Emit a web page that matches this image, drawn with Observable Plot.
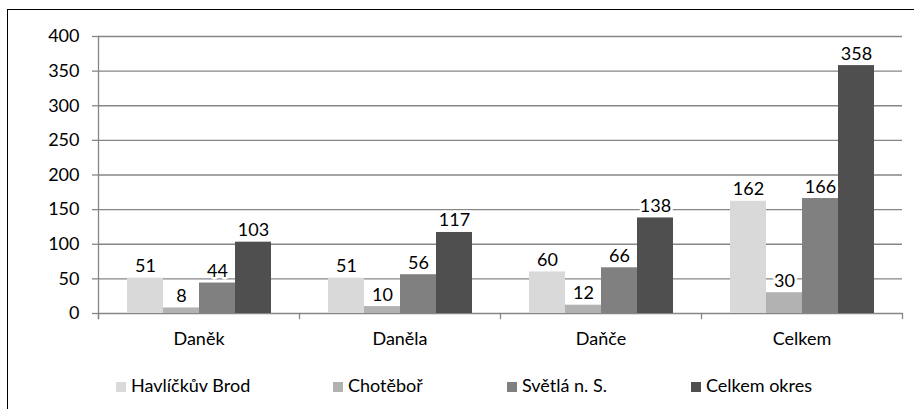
<!DOCTYPE html>
<html>
<head>
<meta charset="utf-8">
<script src="https://cdn.jsdelivr.net/npm/d3@7"></script>
<script src="https://cdn.jsdelivr.net/npm/@observablehq/plot@0.6"></script>
<style>
  html, body { margin: 0; padding: 0; background: #fff; }
  body { width: 914px; height: 409px; position: relative; overflow: hidden; font-family: Lato, "Liberation Sans", Arial, sans-serif; }
  #border { position: absolute; left: 7px; top: 9px; width: 1000px; height: 600px; border: 1px solid #000; box-sizing: border-box; }
  #chart { position: absolute; left: 0; top: 0; }
  #legend { position: absolute; left: 0; top: 0; width: 914px; height: 409px; }
  .item { position: absolute; top: 374px; display: flex; align-items: center; font-size: 18px; color: #000; white-space: nowrap; }
  .sw { width: 10px; height: 10px; margin-right: 5px; margin-top: 3px; }
</style>
</head>
<body>
<div id="border"></div>
<div id="chart"></div>
<div id="legend"></div>
<script>
const categories = ["Daněk", "Daněla", "Daňče", "Celkem"];
const series = ["Havlíčkův Brod", "Chotěboř", "Světlá n. S.", "Celkem okres"];
const valuesHavlickuvBrod = [51, 51, 60, 162];
const valuesChotebor = [8, 10, 12, 30];
const valuesSvetla = [44, 56, 66, 166];
const valuesCelkemOkres = [103, 117, 138, 358];
const yTicks = [0, 50, 100, 150, 200, 250, 300, 350, 400];
const colors = ["#d9d9d9", "#b2b2b2", "#808080", "#4f4f4f"];

const seriesValues = [valuesHavlickuvBrod, valuesChotebor, valuesSvetla, valuesCelkemOkres];
const data = [];
categories.forEach((c, ci) => series.forEach((s, si) => data.push({cat: c, series: s, value: seriesValues[si][ci]})));

const gray = "#868686";
const font = "Lato, 'Liberation Sans', Arial, sans-serif";
const chart = Plot.plot({
  width: 914,
  height: 355,
  marginTop: 36,
  marginBottom: 42,
  marginLeft: 97,
  marginRight: 12,
  style: {fontFamily: font, fontSize: "18px", color: "#000", background: "transparent"},
  fx: {domain: categories, padding: 0},
  x: {domain: series, paddingInner: 0, paddingOuter: 0.755, axis: null},
  y: {domain: [0, 400]},
  color: {domain: series, range: colors},
  marks: [
    Plot.gridY(yTicks, {stroke: gray, strokeOpacity: 1, strokeWidth: 1.3}),
    Plot.barY(data, {fx: "cat", x: "series", y: "value", fill: "series"}),
    Plot.text(data, {fx: "cat", x: "series", y: "value", text: d => String(d.value), lineAnchor: "bottom", dy: -6, fontSize: 18, fill: "#000", stroke: "#fff", strokeWidth: 5, paintOrder: "stroke"}),
    Plot.frame({anchor: "left", facetAnchor: "left", stroke: gray, strokeWidth: 1.3, insetBottom: -5}),
    Plot.frame({anchor: "left", stroke: gray, strokeWidth: 1.3, insetTop: 277, insetBottom: -5}),
    Plot.frame({anchor: "right", facetAnchor: "right", stroke: gray, strokeWidth: 1.3, insetTop: 277, insetBottom: -5}),
    Plot.axisY(yTicks, {tickSize: 6, tickPadding: 13, stroke: gray, strokeWidth: 1.3, fill: "#000", fontSize: 18, label: null}),
    Plot.axisFx({anchor: "bottom", tickSize: 0, tickPadding: 19, fill: "#000", fontSize: 18, label: null})
  ]
});
document.getElementById("chart").appendChild(chart);

const legendLeft = [116, 333, 507, 691];
const legend = document.getElementById("legend");
series.forEach((s, i) => {
  const it = document.createElement("div");
  it.className = "item";
  it.style.left = legendLeft[i] + "px";
  const sw = document.createElement("div");
  sw.className = "sw";
  sw.style.background = colors[i];
  const t = document.createElement("span");
  t.textContent = s;
  it.appendChild(sw);
  it.appendChild(t);
  legend.appendChild(it);
});
</script>
</body>
</html>
